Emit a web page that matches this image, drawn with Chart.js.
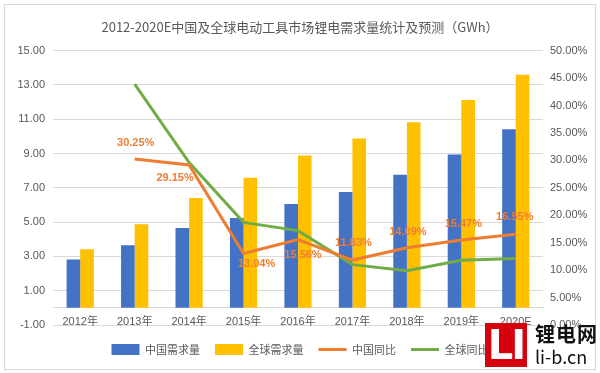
<!DOCTYPE html>
<html lang="zh">
<head>
  <meta charset="UTF-8">
  <title>2012-2020E中国及全球电动工具市场锂电需求量统计及预测</title>
  <script src="https://cdn.jsdelivr.net/npm/chart.js"></script>
  <style>
    html, body {
      margin: 0;
      background: #fff;
    }
    .wrap {
      position: relative;
      width: 600px;
      height: 373px;
    }
    .frame {
      position: absolute;
      left: 4px;
      top: 4px;
      width: 590px;
      height: 364px;
      border: 1px solid #d9d9d9;
      pointer-events: none;
    }
    .logo {
      position: absolute;
      left: 485px;
      top: 323px;
      width: 42px;
      height: 44px;
      background: #d7000f;
      color: #fff;
      font: bold 40px 'DejaVu Sans', sans-serif;
      line-height: 44px;
      text-align: center;
      letter-spacing: -2px;
    }
    .logo-text {
      position: absolute;
      left: 535px;
      top: 324px;
      color: #111;
      font-family: 'Noto Sans CJK SC', 'DejaVu Sans', sans-serif;
      line-height: 1;
    }
    .logo-text .cn { font-size: 20px; font-weight: bold; letter-spacing: 1px; }
    .logo-text .en { font-size: 18px; margin-top: 3px; }
  </style>
</head>
<body>
  <div class="wrap">
    <canvas id="chart"></canvas>
    <div class="frame"></div>
    <div class="logo">LI</div>
    <div class="logo-text"><div class="cn">锂电网</div><div class="en">li-b.cn</div></div>
  </div>

  <script>
    const years = ['2012年', '2013年', '2014年', '2015年', '2016年', '2017年', '2018年', '2019年', '2020E'];
    const chinaDemand = [2.82, 3.65, 4.65, 5.24, 6.06, 6.76, 7.76, 8.94, 10.41];
    const globalDemand = [3.41, 4.88, 6.41, 7.59, 8.88, 9.88, 10.82, 12.12, 13.59];
    const chinaYoY = [null, 30.25, 29.15, 13.04, 15.56, 11.83, 14.09, 15.47, 16.55];
    const globalYoY = [null, 43.9, 29.6, 18.7, 17.2, 11.0, 9.9, 11.8, 12.1];

    const grey = '#595959';
    const fontFamily = "'Liberation Sans', 'Noto Sans CJK SC', sans-serif";

    // where each 中国同比 label sits relative to its point
    const labelShift = [null, [1, -16], [-14, 13], [13, 11], [5, 15], [1, -17], [1, -16], [2, -16], [-1, -17]];

    const yoyLabels = {
      id: 'yoyLabels',
      afterDatasetsDraw(chart) {
        const meta = chart.getDatasetMeta(2);
        const c = chart.ctx;
        c.save();
        c.font = 'bold 11px ' + fontFamily;
        c.fillStyle = '#ED7D31';
        c.textAlign = 'center';
        c.textBaseline = 'middle';
        meta.data.forEach((pt, i) => {
          if (chinaYoY[i] == null) return;
          const s = labelShift[i];
          c.fillText(chinaYoY[i].toFixed(2) + '%', pt.x + s[0], pt.y + s[1]);
        });
        c.restore();
      }
    };

    // push the legend row a few px lower, like the Excel original
    const legendNudge = {
      id: 'legendNudge',
      afterLayout(chart) {
        chart.legend.top += 4;
        chart.legend.bottom += 4;
      }
    };

    new Chart(document.getElementById('chart'), {
      type: 'bar',
      data: {
        labels: years,
        datasets: [
          {
            label: '中国需求量',
            data: chinaDemand,
            backgroundColor: '#4472C4',
            yAxisID: 'y',
            order: 2,
            pointStyle: 'rect'
          },
          {
            label: '全球需求量',
            data: globalDemand,
            backgroundColor: '#FFC000',
            yAxisID: 'y',
            order: 2,
            pointStyle: 'rect'
          },
          {
            type: 'line',
            label: '中国同比',
            data: chinaYoY,
            borderColor: '#ED7D31',
            backgroundColor: '#ED7D31',
            borderWidth: 3,
            pointRadius: 0,
            pointStyle: 'line',
            yAxisID: 'y1',
            order: 1
          },
          {
            type: 'line',
            label: '全球同比',
            data: globalYoY,
            borderColor: '#70AD47',
            backgroundColor: '#70AD47',
            borderWidth: 3,
            pointRadius: 0,
            pointStyle: 'line',
            yAxisID: 'y1',
            order: 1
          }
        ]
      },
      options: {
        animation: false,
        responsive: true,
        maintainAspectRatio: false,
        layout: { padding: { left: 0, right: 0, top: 0, bottom: 12 } },
        datasets: {
          bar: { categoryPercentage: 0.5, barPercentage: 1.0 }
        },
        plugins: {
          title: {
            display: true,
            text: '2012-2020E中国及全球电动工具市场锂电需求量统计及预测（GWh）',
            color: grey,
            font: { family: "'Noto Sans CJK SC', sans-serif", size: 13, weight: 'normal' },
            padding: { top: 19, bottom: 16 }
          },
          legend: {
            position: 'bottom',
            labels: {
              usePointStyle: true,
              pointStyleWidth: 28,
              boxHeight: 11,
              padding: 15,
              color: grey,
              font: { family: "'Noto Sans CJK SC', sans-serif", size: 11 },
              sort: (a, b) => a.datasetIndex - b.datasetIndex
            }
          },
          tooltip: { enabled: false }
        },
        scales: {
          x: {
            position: { y: 0 },
            grid: { display: false, drawTicks: false },
            border: { display: true, color: '#d9d9d9' },
            ticks: { color: grey, padding: 8, font: { family: fontFamily, size: 11 } }
          },
          y: {
            position: 'left',
            min: -1,
            max: 15,
            ticks: {
              stepSize: 2,
              color: grey,
              padding: 8,
              font: { family: fontFamily, size: 11 },
              callback: v => v.toFixed(2)
            },
            grid: { color: '#d9d9d9', drawTicks: false },
            border: { display: false },
            afterFit: s => { s.width = 53; }
          },
          y1: {
            position: 'right',
            min: 0,
            max: 50,
            ticks: {
              stepSize: 5,
              color: grey,
              padding: 7,
              font: { family: fontFamily, size: 11 },
              callback: v => v.toFixed(2) + '%'
            },
            grid: { display: false, drawTicks: false },
            border: { display: false },
            afterFit: s => { s.width = 57; }
          }
        }
      },
      plugins: [yoyLabels, legendNudge]
    });
  </script>
</body>
</html>
